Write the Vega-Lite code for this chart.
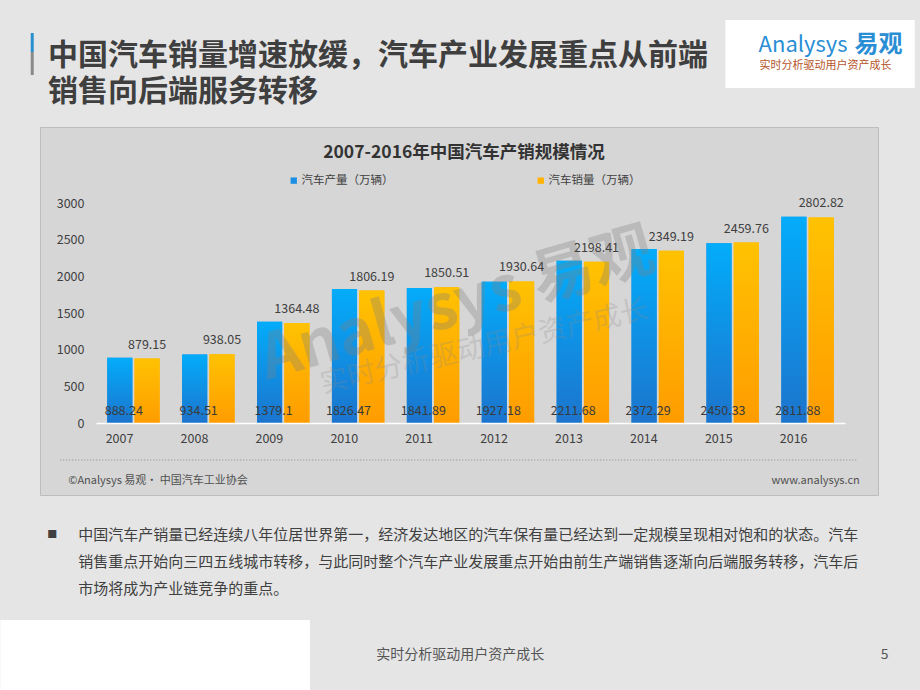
{
  "$schema": "https://vega.github.io/schema/vega-lite/v6.json",
  "width": 838,
  "height": 368,
  "autosize": {"type": "none"},
  "padding": {"left": 40, "top": 127, "right": 42, "bottom": 195},
  "background": "#e5e5e5",
  "view": {"fill": "#d6d6d6", "stroke": "#bdbdbd", "strokeWidth": 1},
  "config": {
    "font": "Noto Sans CJK SC",
    "text": {"font": "Noto Sans CJK SC", "fontWeight": 400}
  },
  "title": {
    "text": ["中国汽车销量增速放缓，汽车产业发展重点从前端", "销售向后端服务转移"],
    "anchor": "start",
    "frame": "group",
    "dx": 8,
    "dy": 87,
    "offset": 0,
    "fontSize": 30,
    "fontWeight": "bold",
    "color": "#3f3f3f",
    "lineHeight": 36,
    "font": "Noto Sans CJK SC"
  },
  "datasets": {
    "cars": [
      {"year": "2007", "series": "汽车产量（万辆）", "value": 888.24},
      {"year": "2008", "series": "汽车产量（万辆）", "value": 934.51},
      {"year": "2009", "series": "汽车产量（万辆）", "value": 1379.1},
      {"year": "2010", "series": "汽车产量（万辆）", "value": 1826.47},
      {"year": "2011", "series": "汽车产量（万辆）", "value": 1841.89},
      {"year": "2012", "series": "汽车产量（万辆）", "value": 1927.18},
      {"year": "2013", "series": "汽车产量（万辆）", "value": 2211.68},
      {"year": "2014", "series": "汽车产量（万辆）", "value": 2372.29},
      {"year": "2015", "series": "汽车产量（万辆）", "value": 2450.33},
      {"year": "2016", "series": "汽车产量（万辆）", "value": 2811.88},
      {"year": "2007", "series": "汽车销量（万辆）", "value": 879.15},
      {"year": "2008", "series": "汽车销量（万辆）", "value": 938.05},
      {"year": "2009", "series": "汽车销量（万辆）", "value": 1364.48},
      {"year": "2010", "series": "汽车销量（万辆）", "value": 1806.19},
      {"year": "2011", "series": "汽车销量（万辆）", "value": 1850.51},
      {"year": "2012", "series": "汽车销量（万辆）", "value": 1930.64},
      {"year": "2013", "series": "汽车销量（万辆）", "value": 2198.41},
      {"year": "2014", "series": "汽车销量（万辆）", "value": 2349.19},
      {"year": "2015", "series": "汽车销量（万辆）", "value": 2459.76},
      {"year": "2016", "series": "汽车销量（万辆）", "value": 2802.82}
    ],
    "one": [{}]
  },
  "data": {"name": "cars"},
  "layer": [
    {
      "data": {"name": "one"},
      "mark": {"type": "rect", "fill": "#ffffff", "xOffset": -56, "x2Offset": 81},
      "encoding": {
        "x": {"datum": "2016", "bandPosition": 0},
        "x2": {"datum": "2016", "bandPosition": 1},
        "y": {"datum": 5495, "type": "quantitative"},
        "y2": {"datum": 4568}
      }
    },
    {
      "data": {"name": "one"},
      "mark": {"type": "rect", "fill": "#ffffff", "xOffset": -107, "x2Offset": -22},
      "encoding": {
        "x": {"datum": "2007", "bandPosition": 0},
        "x2": {"datum": "2010", "bandPosition": 0},
        "y": {"datum": -2686, "type": "quantitative"},
        "y2": {"datum": -3641}
      }
    },
    {
      "data": {"name": "one"},
      "mark": {"type": "rule", "color": "#2a8fd0", "strokeWidth": 3, "xOffset": -75},
      "encoding": {
        "x": {"datum": "2007", "bandPosition": 0},
        "y": {"datum": 5318, "type": "quantitative"},
        "y2": {"datum": 5059}
      }
    },
    {
      "data": {"name": "one"},
      "mark": {"type": "rule", "color": "#8a8a8a", "strokeWidth": 3, "xOffset": -75},
      "encoding": {
        "x": {"datum": "2007", "bandPosition": 0},
        "y": {"datum": 5059, "type": "quantitative"},
        "y2": {"datum": 4745}
      }
    },
    {
      "mark": {"type": "bar"},
      "encoding": {
        "x": {
          "field": "year",
          "type": "nominal",
          "scale": {"range": [56, 805], "paddingInner": 0.3, "paddingOuter": 0.15},
          "axis": {
            "title": null,
            "orient": "bottom",
            "offset": -72,
            "domainColor": "#ffffff",
            "domainWidth": 1.5,
            "ticks": false,
            "grid": false,
            "labelAngle": 0,
            "labelPadding": 15,
            "labelFontSize": 12.5,
            "labelColor": "#404040"
          }
        },
        "xOffset": {
          "field": "series",
          "type": "nominal",
          "scale": {"paddingInner": 0.08, "paddingOuter": 0}
        },
        "y": {
          "field": "value",
          "type": "quantitative",
          "scale": {"domain": [0, 3000], "range": [296, 76], "nice": false},
          "axis": {
            "title": null,
            "offset": -56,
            "domain": false,
            "ticks": false,
            "grid": false,
            "format": "d",
            "values": [0, 500, 1000, 1500, 2000, 2500, 3000],
            "labelPadding": 12,
            "labelFontSize": 12.5,
            "labelColor": "#404040"
          }
        },
        "color": {
          "field": "series",
          "type": "nominal",
          "scale": {"domain": ["汽车产量（万辆）", "汽车销量（万辆）"], "range": ["#1a8fe3", "#ffb300"]},
          "legend": {
            "orient": "none",
            "legendX": 248,
            "legendY": 17,
            "direction": "horizontal",
            "title": "2007-2016年中国汽车产销规模情况",
            "titleAnchor": "middle",
            "titleFontSize": 17.5,
            "titleFontWeight": "bold",
            "titleColor": "#333333",
            "titleLimit": 600,
            "titlePadding": 13,
            "labelFontSize": 11.5,
            "labelColor": "#404040",
            "symbolType": "square",
            "symbolSize": 40,
            "symbolStrokeWidth": 0,
            "labelOffset": 2,
            "columnPadding": 141
          }
        }
      }
    },
    {
      "transform": [{"filter": "datum.series === '汽车产量（万辆）'"}],
      "mark": {
        "type": "bar",
        "color": {
          "gradient": "linear", "x1": 0, "y1": 0, "x2": 0, "y2": 1,
          "stops": [{"offset": 0, "color": "#03acfa"}, {"offset": 1, "color": "#1c74cd"}]
        }
      },
      "encoding": {
        "x": {"field": "year", "type": "nominal"},
        "xOffset": {"field": "series", "type": "nominal"},
        "y": {"field": "value", "type": "quantitative"}
      }
    },
    {
      "transform": [{"filter": "datum.series === '汽车销量（万辆）'"}],
      "mark": {
        "type": "bar",
        "color": {
          "gradient": "linear", "x1": 0, "y1": 0, "x2": 0, "y2": 1,
          "stops": [{"offset": 0, "color": "#ffc202"}, {"offset": 1, "color": "#ff9c00"}]
        }
      },
      "encoding": {
        "x": {"field": "year", "type": "nominal"},
        "xOffset": {"field": "series", "type": "nominal"},
        "y": {"field": "value", "type": "quantitative"}
      }
    },
    {
      "data": {"name": "one"},
      "mark": {"type": "text", "font": "Noto Sans CJK SC", "align": "center", "angle": -16, "dx": -2, "fontSize": 62, "fontWeight": "bold", "fill": "#808080", "opacity": 0.32},
      "encoding": {
        "x": {"datum": "2011", "bandPosition": 1},
        "y": {"datum": 1609, "type": "quantitative"},
        "text": {"value": "Analysys 易观"}
      }
    },
    {
      "data": {"name": "one"},
      "mark": {"type": "text", "font": "Noto Sans CJK SC", "align": "center", "angle": -13, "dx": 3, "fontSize": 28, "fill": "#8a8a8a", "opacity": 0.24},
      "encoding": {
        "x": {"datum": "2012", "bandPosition": 0},
        "y": {"datum": 1023, "type": "quantitative"},
        "text": {"value": "实时分析驱动用户资产成长"}
      }
    },
    {
      "transform": [{"filter": "datum.series === '汽车销量（万辆）'"}],
      "mark": {"type": "text", "font": "Noto Sans CJK SC", "dy": -14, "fontSize": 12.5, "fill": "#404040"},
      "encoding": {
        "x": {"field": "year", "type": "nominal"},
        "xOffset": {"field": "series", "type": "nominal"},
        "y": {"field": "value", "type": "quantitative"},
        "text": {"field": "value", "type": "quantitative", "format": "~r"}
      }
    },
    {
      "transform": [{"filter": "datum.series === '汽车产量（万辆）'"}],
      "mark": {"type": "text", "font": "Noto Sans CJK SC", "dy": -12, "dx": 4, "fontSize": 12.5, "fill": "#3a3a3a"},
      "encoding": {
        "x": {"field": "year", "type": "nominal"},
        "xOffset": {"field": "series", "type": "nominal"},
        "y": {"datum": 0, "type": "quantitative"},
        "text": {"field": "value", "type": "quantitative", "format": "~r"}
      }
    },
    {
      "data": {"name": "one"},
      "mark": {"type": "rule", "strokeDash": [1, 2], "color": "#8a8a8a", "strokeWidth": 1, "xOffset": -47, "x2Offset": 24},
      "encoding": {
        "x": {"datum": "2007", "bandPosition": 0},
        "x2": {"datum": "2016", "bandPosition": 1},
        "y": {"datum": -505, "type": "quantitative"}
      }
    },
    {
      "data": {"name": "one"},
      "mark": {"type": "text", "font": "Noto Sans CJK SC", "align": "left", "dx": -39, "fontSize": 11, "fill": "#505050"},
      "encoding": {
        "x": {"datum": "2007", "bandPosition": 0},
        "y": {"datum": -791, "type": "quantitative"},
        "text": {"value": "©Analysys 易观· 中国汽车工业协会"}
      }
    },
    {
      "data": {"name": "one"},
      "mark": {"type": "text", "font": "Noto Sans CJK SC", "align": "right", "dx": 26, "fontSize": 11, "fill": "#505050"},
      "encoding": {
        "x": {"datum": "2016", "bandPosition": 1},
        "y": {"datum": -791, "type": "quantitative"},
        "text": {"value": "www.analysys.cn"}
      }
    },
    {
      "data": {"name": "one"},
      "mark": {"type": "text", "font": "Noto Sans CJK SC", "align": "center", "dx": -55, "fontSize": 10, "fill": "#404040"},
      "encoding": {
        "x": {"datum": "2007", "bandPosition": 0},
        "y": {"datum": -1527, "type": "quantitative"},
        "text": {"value": "■"}
      }
    },
    {
      "data": {"name": "one"},
      "mark": {"type": "text", "font": "Noto Sans CJK SC", "align": "left", "baseline": "middle", "dx": -29, "fontSize": 15, "lineHeight": 27, "fill": "#404040"},
      "encoding": {
        "x": {"datum": "2007", "bandPosition": 0},
        "y": {"datum": -1527, "type": "quantitative"},
        "text": {"value": [
          "中国汽车产销量已经连续八年位居世界第一，经济发达地区的汽车保有量已经达到一定规模呈现相对饱和的状态。汽车",
          "销售重点开始向三四五线城市转移，与此同时整个汽车产业发展重点开始由前生产端销售逐渐向后端服务转移，汽车后",
          "市场将成为产业链竞争的重点。"
        ]}
      }
    },
    {
      "data": {"name": "one"},
      "mark": {"type": "text", "font": "Noto Sans CJK SC", "align": "center", "dx": 1, "fontSize": 14, "fill": "#555555"},
      "encoding": {
        "x": {"datum": "2011", "bandPosition": 1},
        "y": {"datum": -3164, "type": "quantitative"},
        "text": {"value": "实时分析驱动用户资产成长"}
      }
    },
    {
      "data": {"name": "one"},
      "mark": {"type": "text", "font": "Noto Sans CJK SC", "align": "center", "dx": 51, "fontSize": 14, "fill": "#555555"},
      "encoding": {
        "x": {"datum": "2016", "bandPosition": 1},
        "y": {"datum": -3164, "type": "quantitative"},
        "text": {"value": "5"}
      }
    },
    {
      "data": {"name": "one"},
      "mark": {"type": "text", "font": "Noto Sans CJK SC", "align": "right", "dx": 40, "fontSize": 22, "fill": "#2a8ed5"},
      "encoding": {
        "x": {"datum": "2016", "bandPosition": 0.5},
        "y": {"datum": 5155, "type": "quantitative"},
        "text": {"value": "Analysys"}
      }
    },
    {
      "data": {"name": "one"},
      "mark": {"type": "text", "font": "Noto Sans CJK SC", "align": "left", "dx": 47, "fontSize": 24, "fontWeight": "bold", "fill": "#2a8ed5"},
      "encoding": {
        "x": {"datum": "2016", "bandPosition": 0.5},
        "y": {"datum": 5155, "type": "quantitative"},
        "text": {"value": "易观"}
      }
    },
    {
      "data": {"name": "one"},
      "mark": {"type": "text", "font": "Noto Sans CJK SC", "align": "center", "dx": 18, "fontSize": 11, "fill": "#b5542a"},
      "encoding": {
        "x": {"datum": "2016", "bandPosition": 0.5},
        "y": {"datum": 4868, "type": "quantitative"},
        "text": {"value": "实时分析驱动用户资产成长"}
      }
    }
  ]
}
